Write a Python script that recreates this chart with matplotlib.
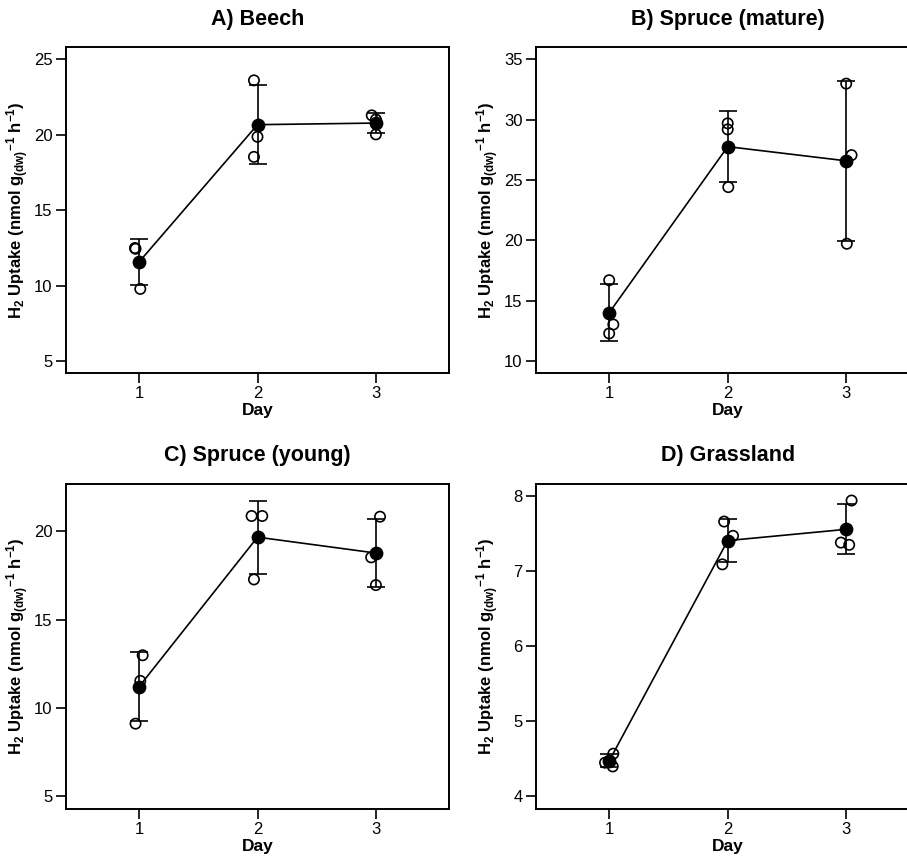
import matplotlib
matplotlib.use("Agg")
import matplotlib.pyplot as plt
import numpy as np

plt.rcParams['font.family'] = ['Liberation Sans', 'DejaVu Sans']
plt.rcParams['mathtext.fontset'] = 'custom'
plt.rcParams['mathtext.rm'] = 'Liberation Sans:bold'
plt.rcParams['mathtext.it'] = 'Liberation Sans:bold'
plt.rcParams['mathtext.bf'] = 'Liberation Sans:bold'

days = [1, 2, 3]
titles = ["A) Beech", "B) Spruce (mature)", "C) Spruce (young)", "D) Grassland"]

# replicate values (three per day)
beech = [[12.50, 12.45, 9.79], [23.61, 19.87, 18.54], [21.29, 21.02, 20.03]]
spruce_mature = [[16.71, 13.04, 12.30], [29.70, 29.20, 24.42], [32.99, 27.07, 19.73]]
spruce_young = [[12.99, 11.54, 9.12], [20.87, 20.87, 17.28], [20.83, 18.53, 16.96]]
grassland = [[4.45, 4.57, 4.40], [7.66, 7.47, 7.09], [7.94, 7.38, 7.35]]

# horizontal jitter of replicate points (in day units)
jit_beech = [[-0.035, -0.03, 0.01], [-0.03, 0.0, -0.03], [-0.035, 0.0, 0.0]]
jit_sm = [[0.0, 0.035, 0.0], [0.0, 0.0, 0.005], [0.0, 0.045, 0.005]]
jit_sy = [[0.03, 0.01, -0.03], [-0.05, 0.04, -0.03], [0.035, -0.04, 0.0]]
jit_gr = [[-0.035, 0.035, 0.03], [-0.03, 0.045, -0.045], [0.045, -0.045, 0.025]]

datasets = [beech, spruce_mature, spruce_young, grassland]
jitters = [jit_beech, jit_sm, jit_sy, jit_gr]
yticks = [[5, 10, 15, 20, 25], [10, 15, 20, 25, 30, 35], [5, 10, 15, 20], [4, 5, 6, 7, 8]]
yranges = [(5, 25), (10, 35), (5, 22), (4, 8)]

W, H = 907, 860
fig = plt.figure(figsize=(W / 100, H / 100), dpi=100)

# axes boxes in pixels: left, top, width, height
boxes = [(65.7, 47.3, 383.6, 326.0), (535.7, 47.3, 384.0, 326.0),
         (65.7, 484.0, 383.6, 324.5), (535.7, 484.0, 384.0, 324.5)]

ylabel = r"$\mathrm{H_2}$ Uptake (nmol g$\mathrm{{}_{(dw)}}$$\mathrm{{}^{-1}}$ h$\mathrm{{}^{-1}}$)"

for i, (l, t, w, h) in enumerate(boxes):
    ax = fig.add_axes([l / W, (H - t - h) / H, w / W, h / H])
    data = np.array(datasets[i])
    jit = np.array(jitters[i])
    means = data.mean(axis=1)
    sds = data.std(axis=1, ddof=1)
    ax.plot(days, means, color='black', lw=1.2, zorder=2)
    ax.errorbar(days, means, yerr=sds, fmt='none', ecolor='black', elinewidth=1.2,
                capsize=6.5, capthick=1.2, zorder=2)
    for d, day in enumerate(days):
        ax.scatter(day + jit[d], data[d], s=55, facecolors='none', edgecolors='black',
                   linewidths=1.2, zorder=3)
    ax.scatter(days, means, s=80, color='black', zorder=4)
    lo, hi = yranges[i]
    pad = (hi - lo) * 0.04
    ax.set_ylim(lo - pad, hi + pad)
    ax.set_xlim(0.38, 3.62)
    ax.set_xticks(days)
    ax.set_yticks(yticks[i])
    ax.tick_params(direction='out', length=7, width=1.2, labelsize=12, pad=2.5, colors='black')
    for sp in ax.spines.values():
        sp.set_linewidth(1.4)
    ax.set_xlabel("Day", fontsize=12.5, fontweight='bold')
    ax.xaxis.set_label_coords(0.5, -30 / h)
    ax.set_ylabel(ylabel, fontsize=12, fontweight='bold')
    ax.yaxis.set_label_coords(-35 / w, 0.5)
    fig.text((l + w / 2) / W, 1 - (t - 28) / H, titles[i], ha='center', va='center',
             fontsize=15.5, fontweight='bold')

fig.savefig("out.png", dpi=100)
